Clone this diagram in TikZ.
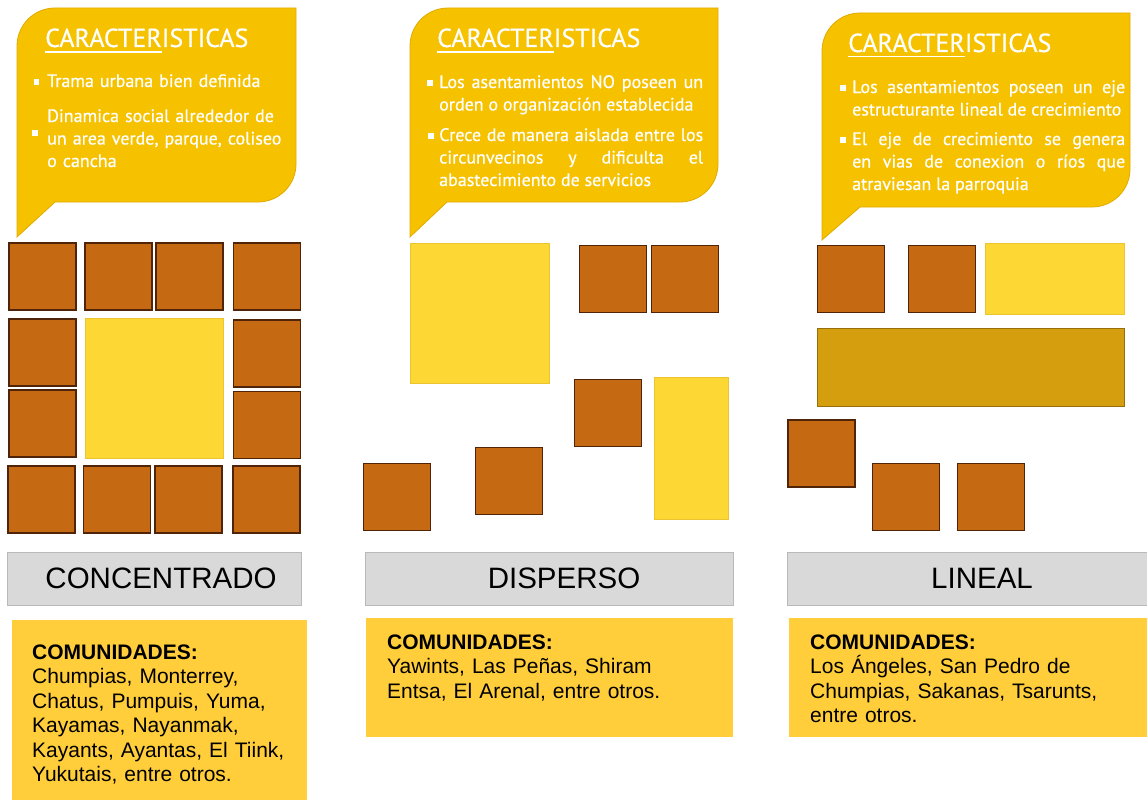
\documentclass[tikz,border=0pt]{standalone}
\usepackage{fontspec}
\setmainfont{Liberation Sans}
\newfontfamily\burbujafont[FakeBold=0.6]{PT Sans}
\usetikzlibrary{positioning}
\definecolor{amarilloBurbuja}{RGB}{246,194,0}
\definecolor{bordeBurbuja}{RGB}{224,170,0}
\definecolor{cafe}{RGB}{197,106,18}
\definecolor{cafeBorde}{RGB}{80,36,8}
\definecolor{amarilloClaro}{RGB}{253,216,53}
\definecolor{amarilloClaroBorde}{RGB}{236,196,50}
\definecolor{dorado}{RGB}{212,158,14}
\definecolor{doradoBorde}{RGB}{150,110,10}
\definecolor{grisBarra}{RGB}{217,217,217}
\definecolor{grisBorde}{RGB}{185,185,185}
\definecolor{amarilloCaja}{RGB}{255,206,58}
\newcommand{\subrayado}[1]{\setbox0\hbox{#1}\rlap{\rule[-5.5pt]{\wd0}{1.8pt}}\box0}

\begin{document}
\begin{tikzpicture}[x=1pt, y=-1pt,
    burbuja/.style={fill=amarilloBurbuja, draw=bordeBurbuja, line width=0.8pt},
    casa/.style={draw=cafeBorde, fill=cafe, line width=1.2pt, minimum size=67pt, inner sep=0},
    plaza/.style={draw=amarilloClaroBorde, fill=amarilloClaro, line width=0.6pt, inner sep=0},
    eje/.style={draw=doradoBorde, fill=dorado, line width=0.8pt, inner sep=0},
    barra/.style={draw=grisBorde, fill=grisBarra, line width=0.8pt, inner sep=0, minimum height=53pt},
    caja/.style={fill=amarilloCaja, inner sep=0},
    titulo/.style={anchor=base west, inner sep=0, text=white, font=\burbujafont\fontsize{26}{28}\selectfont},
    texto/.style={anchor=base west, inner sep=0, text=white, align=justify, font=\burbujafont\fontsize{18}{22.5}\selectfont},
    vineta/.style={fill=white, minimum size=5.5pt, inner sep=0},
    etiqueta/.style={inner sep=0, font=\fontsize{29.5}{32}\selectfont},
    comunidad/.style={anchor=base west, inner sep=0, align=left, font=\fontsize{21}{24.5}\selectfont}]

    \useasboundingbox (0,0) rectangle (1147,800);

    % burbujas
    \filldraw[burbuja] (17,237) -- (17,46) .. controls (17,25) and (34,8) .. (55,8) -- (296,8) -- (296,164) .. controls (296,185) and (279,202) .. (258,202) -- (55,202) -- cycle;
    \filldraw[burbuja] (410,237) -- (410,46) .. controls (410,25) and (427,8) .. (448,8) -- (718,8) -- (718,164) .. controls (718,185) and (701,202) .. (680,202) -- (447,202) -- cycle;
    \filldraw[burbuja] (822,240) -- (822,51) .. controls (822,30) and (839,13) .. (860,13) -- (1130,13) -- (1130,169) .. controls (1130,190) and (1113,207) .. (1092,207) -- (860,207) -- cycle;

    \node[titulo] (tit1) at (45,47) {\subrayado{CARACTER}ISTICAS};
    \node[vineta] (v11) at (36.5,82) {};
    \node[texto, align=left, text width=245pt] (t11) at (47,87) {Trama urbana bien definida};
    \node[vineta] (v12) at (35,133) {};
    \node[texto, align=left, text width=245pt] (t12) at (47,122) {Dinamica social alrededor de\\un area verde, parque, coliseo\\o cancha};

    \node[titulo] (tit2) at (437,47) {\subrayado{CARACTER}ISTICAS};
    \node[vineta] (v21) at (430,83) {};
    \node[texto, text width=264pt] (t21) at (439,88) {Los asentamientos NO poseen un\linebreak orden o organización establecida};
    \node[vineta] (v22) at (431,136) {};
    \node[texto, text width=264pt] (t22) at (439,141) {Crece de manera aislada entre los\linebreak circunvecinos y dificulta el\linebreak abastecimiento de servicios};

    \node[titulo] (tit3) at (848,52) {\subrayado{CARACTER}ISTICAS};
    \node[vineta] (v31) at (843,88) {};
    \node[texto, text width=273pt] (t31) at (852,93) {Los asentamientos poseen un eje\linebreak estructurante lineal de crecimiento};
    \node[vineta] (v32) at (843,140) {};
    \node[texto, text width=273pt] (t32) at (852,145) {El eje de crecimiento se genera\linebreak en vias de conexion o ríos que\linebreak atraviesan la parroquia};

    % concentrado
    \node[casa] (C1a) at (42.5,276.5) {};
    \node[casa] (C1b) at (118.5,276.5) {};
    \node[casa] (C1c) at (189.5,276.5) {};
    \node[casa] (C1d) at (267,276.5) {};
    \node[casa] (C2a) at (42.5,352.5) {};
    \node[casa] (C3a) at (42.5,423.5) {};
    \node[casa] (C2d) at (267,353.5) {};
    \node[casa] (C3d) at (267,425) {};
    \node[casa] (C4a) at (41.5,499.5) {};
    \node[casa] (C4b) at (117,499.5) {};
    \node[casa] (C4c) at (188.5,499.5) {};
    \node[casa] (C4d) at (266.5,499.5) {};
    \node[plaza, minimum width=138pt, minimum height=140pt] (P1) at (154,388) {};

    % disperso
    \node[plaza, minimum width=139pt, minimum height=140pt] (P2a) at (479.5,313) {};
    \node[casa] (D1) at (613,279) {};
    \node[casa] (D2) at (685,279) {};
    \node[casa] (D3) at (608,413) {};
    \node[casa] (D4) at (397,497) {};
    \node[casa] (D5) at (509,481) {};
    \node[plaza, minimum width=74pt, minimum height=142pt] (P2b) at (691,448) {};

    % lineal
    \node[casa] (L1) at (851,279) {};
    \node[casa] (L2) at (942,279) {};
    \node[plaza, minimum width=139pt, minimum height=71pt] (P3) at (1054.5,278.5) {};
    \node[eje, minimum width=307pt, minimum height=78pt] (E3) at (970.5,367) {};
    \node[casa] (L3) at (821.5,453.5) {};
    \node[casa] (L4) at (906,497) {};
    \node[casa] (L5) at (991,497) {};

    % barras de tipo
    \node[barra, minimum width=294pt] (B1) at (154,578.5) {};
    \node[barra, minimum width=368pt] (B2) at (549,578.5) {};
    \node[barra, minimum width=360pt] (B3) at (967,578.5) {};
    \node[etiqueta] (lbl1) at (161,578.5) {CONCENTRADO};
    \node[etiqueta] (lbl2) at (564,578.5) {DISPERSO};
    \node[etiqueta] (lbl3) at (982,578.5) {LINEAL};

    % comunidades
    \node[caja, minimum width=295pt, minimum height=180pt] (K1) at (159.5,710) {};
    \node[caja, minimum width=367pt, minimum height=119pt] (K2) at (549.5,677.5) {};
    \node[caja, minimum width=358pt, minimum height=119pt] (K3) at (968,677.5) {};
    \node[comunidad, text width=270pt] (com1) at (32,659) {\textbf{COMUNIDADES:}\\Chumpias, Monterrey,\\Chatus, Pumpuis, Yuma,\\Kayamas, Nayanmak,\\Kayants, Ayantas, El Tiink,\\Yukutais, entre otros.};
    \node[comunidad, text width=330pt] (com2) at (387,649) {\textbf{COMUNIDADES:}\\Yawints, Las Peñas, Shiram\\Entsa, El Arenal, entre otros.};
    \node[comunidad, text width=330pt] (com3) at (810,649) {\textbf{COMUNIDADES:}\\Los Ángeles, San Pedro de\\Chumpias, Sakanas, Tsarunts,\\entre otros.};
\end{tikzpicture}
\end{document}
